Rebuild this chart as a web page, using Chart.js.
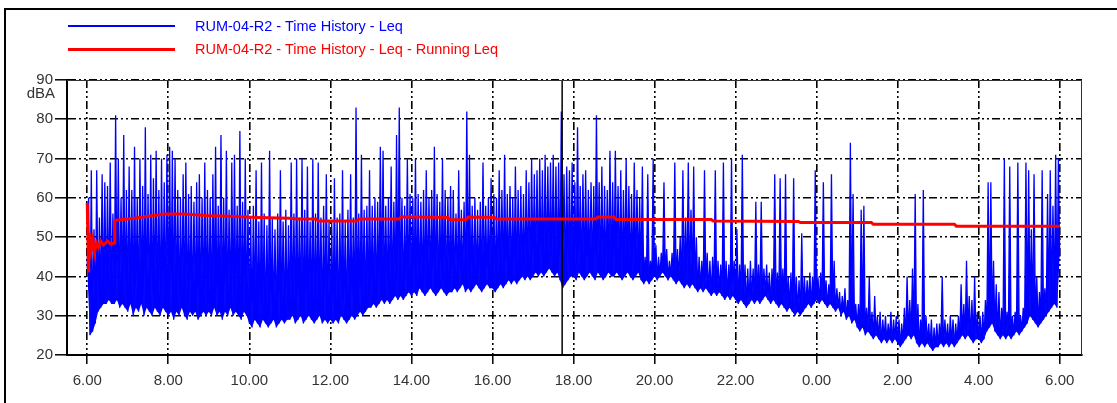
<!DOCTYPE html>
<html>
<head>
<meta charset="utf-8">
<script src="https://cdn.jsdelivr.net/npm/chart.js@4/dist/chart.umd.min.js"></script>
<style>
html,body{margin:0;padding:0;background:#fff;}
#wrap{position:relative;width:1117px;height:403px;overflow:hidden;}
#frame{position:absolute;left:4px;top:8px;width:1200px;height:500px;border-left:2px solid #000;border-top:2px solid #000;}
#c{position:absolute;left:0;top:0;}
.lg-row{position:absolute;left:68px;height:0;font-family:"Liberation Sans",Arial,sans-serif;font-size:14.5px;}
.lg-swatch{position:absolute;left:0;width:107px;}
.lg-text{position:absolute;left:127px;top:0;transform:translateY(-50%);white-space:nowrap;}
</style>
</head>
<body>
<div id="wrap">
  <div id="frame"></div>
  <canvas id="c" width="1117" height="403"></canvas>
  <div id="legend"></div>
</div>
<script>
// ---- data ----
const SAMPLE_MINUTES = 2; // one value every 2 minutes, starting 6:00
const leqValues = [
// 6:00
42,60, 25,67, 26,52, 28,67, 31,55, 32,66, 33,64, 33,63, 34,69, 33,56, 33,81, 34,70, 32,60, 33,76, 32,62,
// 7:00
31,68, 33,62, 30,73, 32,60, 31,70, 33,63, 30,78, 32,61, 31,71, 30,65, 32,72, 31,62, 30,70, 32,64, 31,71,
// 8:00
30,73, 31,72, 29,70, 31,62, 30,60, 32,66, 30,69, 29,61, 31,63, 30,59, 31,64, 29,66, 30,60, 31,69, 30,62,
// 9:00
31,60, 30,66, 32,73, 30,58, 31,76, 29,60, 31,72, 30,57, 32,69, 30,71, 31,58, 30,77, 29,59, 31,70, 30,57,
// 10:00
28,55, 27,58, 29,67, 28,54, 27,69, 29,56, 28,53, 27,72, 28,55, 29,52, 27,56, 28,67, 29,54, 28,57, 29,53,
// 11:00
29,69, 30,56, 28,70, 29,55, 30,70, 28,57, 29,68, 30,54, 29,70, 28,56, 29,69, 30,55, 28,58, 29,66, 28,54,
// 12:00
29,54, 28,65, 29,55, 28,56, 30,67, 29,54, 28,57, 29,66, 30,55, 29,83, 30,56, 31,71, 30,57, 31,58, 32,67,
// 13:00
32,58, 33,60, 32,59, 33,73, 34,72, 33,58, 34,60, 33,68, 34,59, 35,76, 34,83, 35,60, 34,58, 35,70, 36,61,
// 14:00
35,60, 36,70, 35,61, 37,59, 36,62, 35,67, 36,60, 37,62, 36,73, 35,61, 36,59, 37,70, 36,62, 35,60, 36,63,
// 15:00
36,62, 37,56, 36,67, 37,57, 38,59, 36,82, 37,71, 36,58, 37,60, 38,57, 37,59, 36,69, 37,58, 38,60, 37,65,
// 16:00
37,61, 36,60, 37,67, 38,62, 37,71, 38,61, 39,63, 38,60, 39,68, 38,62, 39,63, 40,61, 39,67, 40,64, 39,70,
// 17:00
40,66, 41,67, 40,70, 41,67, 40,71, 41,68, 42,69, 41,71, 40,68, 41,69, 39,82, 37,66, 38,68, 39,67, 40,69,
// 18:00
40,64, 39,78, 41,63, 40,66, 39,67, 40,62, 41,64, 40,63, 39,81, 41,64, 40,68, 39,63, 40,62, 41,72, 40,64,
// 19:00
40,72, 41,63, 40,67, 39,62, 40,70, 41,63, 40,61, 39,69, 40,62, 41,60, 39,68, 38,45, 39,66, 38,44, 39,70,
// 20:00
40,48, 39,45, 40,46, 41,64, 40,47, 39,44, 40,46, 39,69, 38,47, 39,50, 38,67, 37,55, 38,69, 37,57, 38,68,
// 21:00
37,50, 36,45, 37,44, 36,67, 37,46, 36,44, 35,45, 36,67, 35,44, 36,43, 35,69, 34,44, 35,43, 34,70, 35,44,
// 22:00
34,52, 33,43, 34,71, 33,43, 32,42, 33,44, 34,42, 33,59, 34,43, 33,59, 34,42, 35,43, 34,41, 33,42, 34,66,
// 23:00
33,41, 32,65, 33,42, 32,66, 31,40, 32,41, 31,65, 30,40, 31,39, 30,51, 31,40, 32,39, 33,41, 32,40, 33,67,
// 0:00
34,40, 33,41, 34,64, 33,39, 32,38, 33,66, 32,44, 31,37, 32,36, 30,35, 31,37, 29,34, 30,74, 28,61, 29,33,
// 1:00
27,33, 26,57, 27,58, 25,32, 26,40, 25,31, 24,35, 25,30, 24,31, 23,29, 24,30, 23,28, 24,31, 23,29, 24,30,
// 2:00
23,29, 22,28, 23,32, 24,40, 25,34, 24,42, 25,61, 23,33, 22,29, 23,62, 22,30, 23,28, 22,29, 21,27, 22,28,
// 3:00
22,28, 23,40, 22,29, 23,28, 22,30, 23,29, 22,28, 23,30, 24,38, 25,33, 24,44, 25,35, 24,34, 23,40, 24,31,
// 4:00
24,30, 23,31, 24,34, 26,64, 27,64, 28,44, 26,38, 25,36, 24,32, 25,70, 24,31, 25,68, 24,30, 25,31, 26,69,
// 5:00
25,30, 26,32, 27,69, 28,67, 30,52, 29,66, 28,40, 27,36, 28,67, 29,37, 30,61, 31,67, 32,58, 33,71, 32,70,
// 6:00
45
];
// running Leq: hours after 6:00 and level
const runningHours = [0.00,0.03,0.06,0.10,0.14,0.18,0.23,0.28,0.33,0.40,0.50,0.58,0.66,0.68,1.00,1.20,1.50,1.90,2.40,2.90,3.50,4.20,5.00,5.20,5.65,5.70,6.65,6.70,7.70,7.75,8.15,8.90,8.95,9.35,9.40,10.05,10.10,12.55,12.60,13.00,13.05,15.40,15.45,17.55,17.60,19.35,19.40,21.40,21.45,24.00];
const runningLeq   = [58.7,41.0,51.0,47.0,49.5,46.0,48.5,47.5,49.0,48.0,49.0,48.2,48.5,54.3,54.6,54.9,55.3,55.9,55.9,55.5,55.3,55.0,54.8,54.6,54.6,54.1,54.1,54.6,54.6,55.2,55.1,55.0,54.4,54.4,55.1,55.0,54.6,54.6,55.1,55.1,54.5,54.5,54.1,54.0,53.7,53.7,53.3,53.3,52.8,52.8];
const markerHour = 11.72; // cursor line (about 17:43)
const xTickHours  = [0,2,4,6,8,10,12,14,16,18,20,22,24];
const xTickLabels = ['6.00','8.00','10.00','12.00','14.00','16.00','18.00','20.00','22.00','0.00','2.00','4.00','6.00'];
const yTickValues = [20,30,40,50,60,70,80,90];
const yUnit = 'dBA';
const seriesNames = ['RUM-04-R2 - Time History - Leq','RUM-04-R2 - Time History - Leq - Running Leq'];

// ---- chart ----
const FONT = "'Liberation Sans', Arial, sans-serif";
const blueData = leqValues.map((v,i)=>({x: i*SAMPLE_MINUTES/60, y: v}));
// lower envelope = the trough samples of the same series (used only to shade the dense band)
const troughData = blueData.filter((p,i)=> i % 2 === 0);
const redData = runningHours.map((h,i)=>({x: h, y: runningLeq[i]}));
const markerData = [{x: markerHour, y: yTickValues[0]}, {x: markerHour, y: yTickValues[yTickValues.length-1]}];

const framePlugin = {
  id: 'frameAndUnit',
  afterDraw(chart){
    const {ctx, chartArea:a, scales} = chart;
    ctx.save();
    ctx.strokeStyle = '#333';
    ctx.lineWidth = 1;
    ctx.beginPath();
    ctx.moveTo(a.left, a.top + 0.5);
    ctx.lineTo(a.right - 0.5, a.top + 0.5);
    ctx.lineTo(a.right - 0.5, a.bottom);
    ctx.stroke();
    ctx.fillStyle = '#333';
    ctx.font = '15px ' + FONT;
    ctx.textAlign = 'right';
    ctx.textBaseline = 'middle';
    ctx.fillText(yUnit, 55, scales.y.getPixelForValue(86.5));
    ctx.restore();
  }
};

const chart = new Chart(document.getElementById('c'), {
  type: 'line',
  data: {
    datasets: [
      {label: seriesNames[1], data: redData, borderColor: '#ff0000', borderWidth: 3, pointRadius: 0, order: 0, fill: false},
      {label: 'cursor', data: markerData, borderColor: '#000000', borderWidth: 1.5, pointRadius: 0, order: 1, fill: false, hideInLegend: true},
      {label: seriesNames[0], data: blueData, borderColor: '#0000ff', backgroundColor: '#0000ff', borderWidth: 1.3, pointRadius: 0, order: 2, fill: '+1'},
      {label: 'trough', data: troughData, borderColor: 'rgba(0,0,0,0)', borderWidth: 0, pointRadius: 0, order: 3, fill: false, hideInLegend: true}
    ]
  },
  options: {
    responsive: false,
    animation: false,
    devicePixelRatio: 1,
    parsing: false,
    layout: {padding: {left: 0, right: 35, top: 80, bottom: 0}},
    plugins: {legend: {display: false}, tooltip: {enabled: false}, filler: {propagate: false}},
    elements: {line: {tension: 0}},
    scales: {
      x: {
        type: 'linear', min: -0.5, max: 24.55, z: 1,
        afterBuildTicks: s => { s.ticks = xTickHours.map(v => ({value: v})); },
        afterFit: s => { s.height = 48; },
        ticks: {callback: (v, i) => xTickLabels[i], font: {family: FONT, size: 15}, color: '#333', padding: 8, maxRotation: 0, autoSkip: false},
        grid: {color: '#000', lineWidth: 1.6, tickLength: 9, tickColor: '#000', tickWidth: 1.5, tickBorderDash: []},
        border: {color: '#000', width: 2, dash: [8,3,2,3,2,3]}
      },
      y: {
        min: 20, max: 90, z: 1,
        afterBuildTicks: s => { s.ticks = yTickValues.map(v => ({value: v})); },
        afterFit: s => { s.width = 67; },
        ticks: {callback: v => String(v), font: {family: FONT, size: 15}, color: '#333', padding: 2},
        grid: {color: '#000', lineWidth: 1.6, tickLength: 12, tickColor: '#000', tickWidth: 1.5, tickBorderDash: []},
        border: {color: '#000', width: 2, dash: [8,3,2,3,2,3]}
      }
    }
  },
  plugins: [framePlugin]
});

// ---- HTML legend built from the chart's datasets ----
const legendEl = document.getElementById('legend');
const legendDatasets = chart.data.datasets.filter(d => !d.hideInLegend).sort((a,b) => b.order - a.order);
const rowCenters = [26, 49];
legendDatasets.forEach((ds, i) => {
  const row = document.createElement('div');
  row.className = 'lg-row';
  row.style.top = rowCenters[i] + 'px';
  const sw = document.createElement('span');
  sw.className = 'lg-swatch';
  const h = i === 0 ? 1.6 : 3;
  sw.style.height = h + 'px';
  sw.style.top = (-h/2) + 'px';
  sw.style.background = ds.borderColor;
  const tx = document.createElement('span');
  tx.className = 'lg-text';
  tx.style.color = ds.borderColor;
  tx.textContent = ds.label;
  row.appendChild(sw); row.appendChild(tx);
  legendEl.appendChild(row);
});
</script>
</body>
</html>
